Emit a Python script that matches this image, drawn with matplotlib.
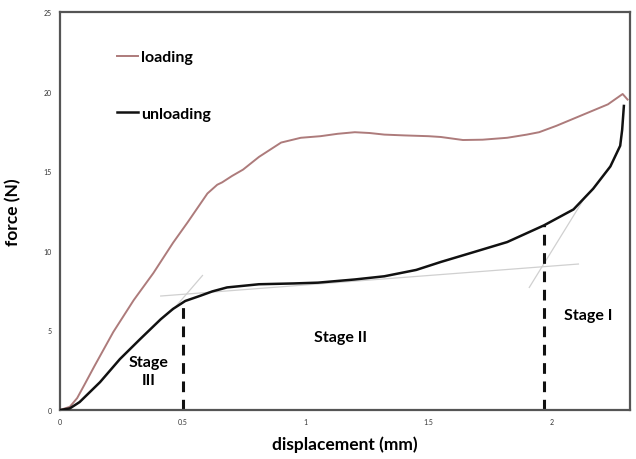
import matplotlib
matplotlib.use("Agg")
import matplotlib.pyplot as plt

plt.rcParams['font.family'] = ['Lato', 'DejaVu Sans']

# loading curve (displacement mm, force N)
load_x = [0.0, 0.04, 0.07, 0.10, 0.14, 0.217, 0.30, 0.38, 0.46, 0.52, 0.56, 0.60, 0.64, 0.66,
          0.70, 0.745, 0.81, 0.86, 0.90, 0.98, 1.06, 1.13, 1.2, 1.26, 1.32, 1.4, 1.5,
          1.55, 1.64, 1.72, 1.82, 1.90, 1.95, 2.02, 2.09, 2.16, 2.23, 2.29, 2.31]
load_y = [0.0, 0.2, 0.75, 1.6, 2.75, 4.9, 6.9, 8.6, 10.5, 11.8, 12.7, 13.6, 14.15, 14.3,
          14.7, 15.1, 15.9, 16.4, 16.8, 17.1, 17.2, 17.35, 17.45, 17.4, 17.3, 17.25, 17.2,
          17.15, 16.96, 16.98, 17.1, 17.3, 17.45, 17.85, 18.3, 18.75, 19.2, 19.85, 19.5]

# unloading curve
unload_x = [0.0, 0.04, 0.08, 0.163, 0.244, 0.326, 0.41, 0.46, 0.51, 0.57, 0.62, 0.68,
            0.81, 0.95, 1.05, 1.2, 1.32, 1.45, 1.55, 1.68, 1.82, 1.97, 2.09, 2.17, 2.24,
            2.28, 2.288, 2.295]
unload_y = [0.0, 0.1, 0.5, 1.75, 3.2, 4.45, 5.7, 6.35, 6.85, 7.17, 7.45, 7.7,
            7.9, 7.95, 8.0, 8.2, 8.4, 8.8, 9.3, 9.9, 10.55, 11.6, 12.6, 13.9, 15.3,
            16.6, 17.6, 19.1]

# tangent construction lines
tan_plateau = ([0.41, 2.11], [7.16, 9.17])
tan_early = ([0.46, 0.58], [6.3, 8.45])
tan_late = ([1.91, 2.14], [7.7, 13.45])

# stage boundaries (x, top of dashed line)
bounds_x = [0.5, 1.97]
bounds_top = [6.85, 11.6]

stage_labels = ['Stage\nIII', 'Stage II', 'Stage I']
stage_pos = [(0.36, 2.45), (1.14, 4.6), (2.15, 5.95)]

fig = plt.figure(figsize=(6.36, 4.60), dpi=100)
ax = fig.add_axes([0.0943, 0.1065, 0.8963, 0.8652])

for tx, ty in [tan_plateau, tan_early, tan_late]:
    ax.plot(tx, ty, color='#d0d0d0', lw=0.9, zorder=1)

ax.plot(load_x, load_y, color='#ad7b7b', lw=1.4, label='loading', zorder=3)
ax.plot(unload_x, unload_y, color='#111111', lw=1.8, label='unloading', zorder=3)

for bx, bt in zip(bounds_x, bounds_top):
    ax.plot([bx, bx], [0, bt], color='#111111', lw=2.2, ls=(0, (3.5, 2.5)), zorder=2)

for lab, (sx, sy) in zip(stage_labels, stage_pos):
    ax.text(sx, sy, lab, ha='center', va='center', fontsize=11.5, fontweight='bold',
            linespacing=1.3)

ax.set_xlim(0, 2.32)
ax.set_ylim(0, 25)
ax.set_xticks([0, 0.5, 1, 1.5, 2])
ax.set_xticklabels(['0', '0.5', '1', '1.5', '2'])
ax.set_yticks([0, 5, 10, 15, 20, 25])
ax.tick_params(length=0, labelsize=5, colors='#333333', pad=6)

for s in ax.spines.values():
    s.set_color('#555555')
    s.set_linewidth(1.6)

ax.set_xlabel('displacement (mm)', fontsize=12.5, fontweight='bold', labelpad=7)
ax.set_ylabel('force (N)', fontsize=12.5, fontweight='bold', labelpad=16)

ax.legend(loc='upper left', bbox_to_anchor=(0.075, 0.94), frameon=False,
          prop={'weight': 'bold', 'size': 11.5}, handlelength=1.3, handletextpad=0.2,
          labelspacing=2.65)

fig.savefig('out.png', dpi=100)
